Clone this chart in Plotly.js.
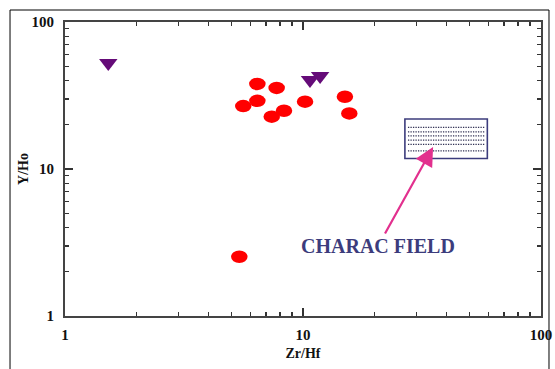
<!DOCTYPE html>
<html>
<head>
<meta charset="utf-8">
<script src="https://cdn.plot.ly/plotly-3.0.1.min.js"></script>
<style>
  html, body { margin: 0; padding: 0; background: #fff; }
  #chart { width: 555px; height: 369px; }
</style>
</head>
<body>
<div id="chart"></div>
<script>
// Sample ratios (Zr/Hf vs Y/Ho)
const circleZrHf = [6.43, 7.75, 5.61, 6.43, 10.2, 7.39, 8.32, 15.0, 15.65, 5.40];
const circleYHo  = [37.9, 35.6, 26.8, 29.1, 28.7, 22.7, 24.9, 31.0, 23.9, 2.53];
const triZrHf = [1.52, 10.7, 11.8];
const triYHo  = [52.6, 40.3, 42.9];

// CHARAC field box and its dotted fill rows
const fieldZrHf = [26.8, 59.5];
const fieldYHo  = [11.8, 21.9];
const fieldRows = [19.2, 17.9, 16.8, 15.7, 14.7, 13.3];
const fieldLabel = 'CHARAC FIELD';
const arrowTip = [35.2, 14.1];

const tickVals = [1, 10, 100];
const tickText = ['1', '10', '100'];

const serif = 'Liberation Serif, Times New Roman, serif';
const navy = '#3c3c7c';

const shapes = [];
// outer frame
shapes.push({type: 'rect', xref: 'paper', yref: 'paper',
  x0: -0.1155, x1: 1.0168, y0: -0.25, y1: 1.0408,
  line: {color: '#000', width: 1}, layer: 'below'});
// field box
shapes.push({type: 'rect', xref: 'x', yref: 'y',
  x0: fieldZrHf[0], x1: fieldZrHf[1], y0: fieldYHo[0], y1: fieldYHo[1],
  line: {color: navy, width: 1.6}});
fieldRows.forEach(v => shapes.push({type: 'line', xref: 'x', yref: 'y',
  x0: fieldZrHf[0] * 1.03, x1: fieldZrHf[1] * 0.98, y0: v, y1: v,
  line: {color: '#333355', width: 1.3, dash: '1.3px,1.2px'}}));

const axisBase = {
  type: 'log', range: [0, 2],
  tickvals: tickVals, ticktext: tickText,
  ticks: 'inside', ticklen: 8, tickwidth: 1.5, tickcolor: '#333',
  showline: true, linecolor: '#444', linewidth: 2, mirror: 'ticks',
  showgrid: false, zeroline: false,
  tickfont: {family: serif, size: 15, color: '#111', weight: 'bold'},
  minor: {ticks: 'inside', ticklen: 4, tickwidth: 1.3, tickcolor: '#333', dtick: 'D1', showgrid: false}
};

const data = [
  {type: 'scatter', mode: 'markers', x: circleZrHf, y: circleYHo,
   marker: {symbol: 'circle', size: 12.5, color: '#ff0000'}, hoverinfo: 'x+y'},
  {type: 'scatter', mode: 'markers', x: triZrHf, y: triYHo,
   marker: {symbol: 'triangle-down', size: 16, color: '#650b78'}, hoverinfo: 'x+y'}
];

const layout = {
  width: 555, height: 369,
  margin: {l: 65, r: 14, t: 22, b: 53},
  paper_bgcolor: '#fff', plot_bgcolor: '#fff',
  showlegend: false,
  xaxis: Object.assign({}, axisBase, {
    title: {text: 'Zr/Hf', font: {family: serif, size: 14, color: '#111', weight: 'bold'}, standoff: 6},
    ticklabelstandoff: 4
  }),
  yaxis: Object.assign({}, axisBase, {
    title: {text: 'Y/Ho', font: {family: serif, size: 14, color: '#111', weight: 'bold'}, standoff: 0},
    ticklabelstandoff: 6
  }),
  shapes: shapes,
  annotations: [{
    xref: 'x', yref: 'y',
    x: Math.log10(arrowTip[0]), y: Math.log10(arrowTip[1]),
    text: fieldLabel, showarrow: true,
    ax: -55, ay: 99,
    arrowcolor: '#e2308e', arrowwidth: 2.2, arrowhead: 2, arrowsize: 1.7, standoff: 0,
    font: {family: serif, size: 20, color: navy, weight: 'bold'}
  }]
};

Plotly.newPlot('chart', data, layout, {displayModeBar: false, staticPlot: true}).then(gd => {
  // stretch the round sample markers into flat ellipses, keeping their plotted centres
  const trace = gd.querySelectorAll('.scatterlayer .trace')[0];
  if (!trace) return;
  trace.querySelectorAll('path.point').forEach(p => {
    const t = p.getAttribute('transform') || '';
    p.setAttribute('transform', t + ' scale(1.32,1)');
  });
});
</script>
</body>
</html>
